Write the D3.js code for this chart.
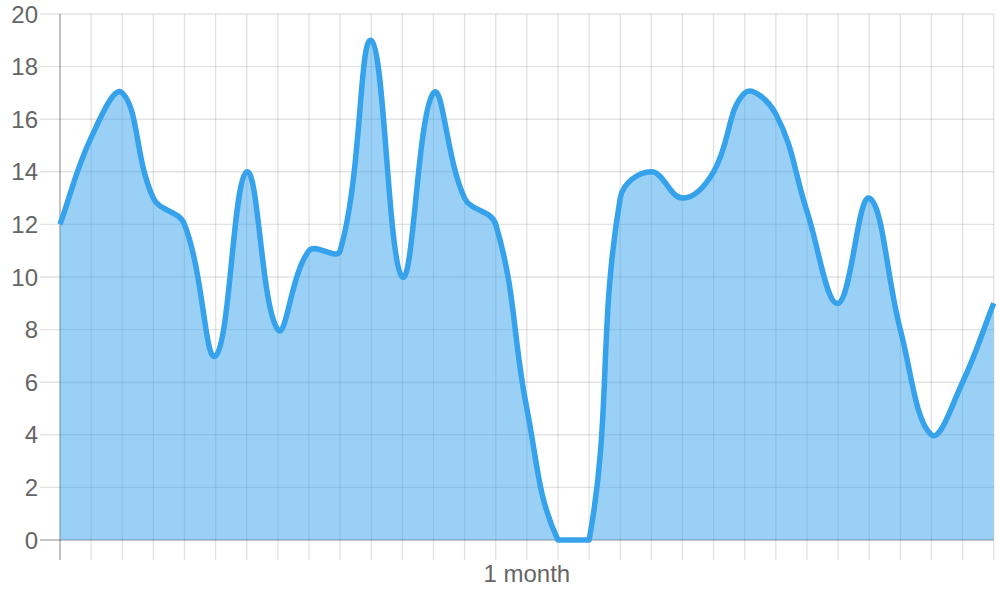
<!DOCTYPE html>
<html>
<head>
<meta charset="utf-8">
<script src="https://cdn.jsdelivr.net/npm/d3@7"></script>
<style>
  body { margin: 0; background: #fff; }
  svg { display: block; }
  text { font-family: "Liberation Sans", Arial, sans-serif; fill: #666; }
</style>
</head>
<body>
<svg id="chart" width="1000" height="600"></svg>
<script>
// one value per day over a month
const days = d3.range(1, 32);
const values = [12, 15.3, 17, 13, 12, 7, 14, 8, 11, 11, 19, 10, 17, 13, 12, 5, 0, 0,
                13, 14, 13, 14, 17, 16.2, 12.5, 9, 13, 8, 4, 6, 9];
const yTicks = [0, 2, 4, 6, 8, 10, 12, 14, 16, 18, 20];
const xTickLabels = new Map([[16, "1 month"]]);

const width = 1000, height = 600;
const margin = { top: 14, right: 6.3, bottom: 60, left: 60 };
const innerW = width - margin.left - margin.right;
const innerH = height - margin.top - margin.bottom;

const svg = d3.select("#chart");

const x = d3.scalePoint().domain(days).range([margin.left, margin.left + innerW]);
const y = d3.scaleLinear().domain([0, 20]).range([margin.top + innerH, margin.top]);

// spline like chart.js (tension 0.4, control points kept inside the chart area)
function splineCurve(tension, area) {
  function Spline(context) { this._context = context; }
  Spline.prototype = {
    areaStart() { this._line = 0; },
    areaEnd() { this._line = NaN; },
    lineStart() { this._pts = []; },
    point(px, py) { this._pts.push({ x: +px, y: +py }); },
    lineEnd() {
      const p = this._pts, n = p.length, ctx = this._context;
      if (!n) return;
      const clampX = v => Math.max(area.x0, Math.min(area.x1, v));
      const clampY = v => Math.max(area.y0, Math.min(area.y1, v));
      for (let i = 0; i < n; i++) {
        const prev = p[Math.max(i - 1, 0)], cur = p[i], next = p[Math.min(i + 1, n - 1)];
        const d01 = Math.hypot(cur.x - prev.x, cur.y - prev.y);
        const d12 = Math.hypot(next.x - cur.x, next.y - cur.y);
        let s01 = d01 / (d01 + d12), s12 = d12 / (d01 + d12);
        if (isNaN(s01)) s01 = 0;
        if (isNaN(s12)) s12 = 0;
        const fa = tension * s01, fb = tension * s12;
        cur.c1x = clampX(cur.x - fa * (next.x - prev.x));
        cur.c1y = clampY(cur.y - fa * (next.y - prev.y));
        cur.c2x = clampX(cur.x + fb * (next.x - prev.x));
        cur.c2y = clampY(cur.y + fb * (next.y - prev.y));
      }
      if (this._line) ctx.lineTo(p[0].x, p[0].y); else ctx.moveTo(p[0].x, p[0].y);
      for (let i = 1; i < n; i++) {
        ctx.bezierCurveTo(p[i - 1].c2x, p[i - 1].c2y, p[i].c1x, p[i].c1y, p[i].x, p[i].y);
      }
      if (this._line === 0) this._line = 1;
      else if (this._line === 1) ctx.closePath();
    }
  };
  return context => new Spline(context);
}

const chartArea = { x0: margin.left, x1: margin.left + innerW, y0: margin.top, y1: margin.top + innerH };
const curve = splineCurve(0.4, chartArea);

// grid
const grid = svg.append("g");
grid.selectAll("line.h")
  .data(yTicks)
  .join("line")
  .attr("x1", margin.left - 20).attr("x2", margin.left + innerW)
  .attr("y1", d => y(d)).attr("y2", d => y(d))
  .attr("stroke", d => d === 0 ? "rgba(0,0,0,0.3)" : "rgba(0,0,0,0.11)")
  .attr("stroke-width", d => d === 0 ? 1.6 : 1.4);

grid.selectAll("line.v")
  .data(days)
  .join("line")
  .attr("x1", d => x(d)).attr("x2", d => x(d))
  .attr("y1", margin.top).attr("y2", margin.top + innerH + 20)
  .attr("stroke", (d, i) => i === 0 ? "rgba(0,0,0,0.3)" : "rgba(0,0,0,0.11)")
  .attr("stroke-width", (d, i) => i === 0 ? 1.6 : 1.4);

// y labels
svg.append("g")
  .selectAll("text")
  .data(yTicks)
  .join("text")
  .attr("x", margin.left - 22)
  .attr("y", d => y(d))
  .attr("dy", "0.36em")
  .attr("text-anchor", "end")
  .style("font-size", "24px")
  .text(d => d);

// x labels
svg.append("g")
  .selectAll("text")
  .data(days.filter(d => xTickLabels.has(d)))
  .join("text")
  .attr("x", d => x(d))
  .attr("y", margin.top + innerH + 42)
  .attr("text-anchor", "middle")
  .style("font-size", "24px")
  .text(d => xTickLabels.get(d));

// area + line
const area = d3.area()
  .x((d, i) => x(days[i]))
  .y0(y(0))
  .y1(d => y(d))
  .curve(curve);

svg.append("path")
  .datum(values)
  .attr("d", area)
  .attr("fill", "rgba(54,162,235,0.5)");

const line = d3.line()
  .x((d, i) => x(days[i]))
  .y(d => y(d))
  .curve(curve);

svg.append("path")
  .datum(values)
  .attr("d", line)
  .attr("fill", "none")
  .attr("stroke", "#36a2eb")
  .attr("stroke-width", 5.5)
  .attr("stroke-linejoin", "round");
</script>
</body>
</html>
